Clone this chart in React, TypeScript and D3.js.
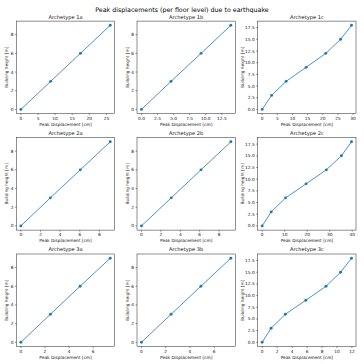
import React from "react";
import * as d3 from "d3";

const suptitle = "Peak displacements (per floor level) due to earthquake";
const titles = ["Archetype 1a", "Archetype 1b", "Archetype 1c", "Archetype 2a", "Archetype 2b", "Archetype 2c", "Archetype 3a", "Archetype 3b", "Archetype 3c"];
const heightsShort = [0, 3, 6, 9];
const heightsTall = [0, 3, 6, 9, 12, 15, 18];
const disp1a = [0, 8.7, 17.4, 26.1];
const disp1b = [0, 4.6, 9.27, 13.9];
const disp1c = [0, 3.1, 7.9, 14.5, 21.0, 25.9, 29.5];
const disp2a = [0, 3.0, 6.05, 9.1];
const disp2b = [0, 3.07, 6.14, 9.22];
const disp2c = [0, 4.0, 10.4, 19.5, 28.5, 35.2, 39.7];
const disp3a = [0, 2.45, 4.92, 7.42];
const disp3b = [0, 2.44, 4.9, 7.37];
const disp3c = [0, 1.19, 3.1, 5.84, 8.54, 10.49, 11.95];
const xTicks = [
  [0, 5, 10, 15, 20, 25],
  [0, 2.5, 5, 7.5, 10, 12.5],
  [0, 5, 10, 15, 20, 25, 30],
  [0, 2, 4, 6, 8],
  [0, 2, 4, 6, 8],
  [0, 10, 20, 30, 40],
  [0, 2, 4, 6],
  [0, 2, 4, 6],
  [0, 2, 4, 6, 8, 10, 12],
];
const yTicksShort = [0, 2, 4, 6, 8];
const yTicksTall = [0, 2.5, 5, 7.5, 10, 12.5, 15, 17.5];
const xLabel = "Peak Displacement [cm]";
const yLabel = "Building height [m]";

const dispSeries = [disp1a, disp1b, disp1c, disp2a, disp2b, disp2c, disp3a, disp3b, disp3c];

const W = 364;
const H = 364;
const colLeft = [16.4, 137, 257.7];
const rowTop = [21.1, 137.6, 254];
const axW = 98.3;
const axH = 92.5;
const COLOR = "#1f77b4";
const FONT = "DejaVu Sans";
const tickFs = 4.3;

function fmt(ticks: number[]) {
  const dec = ticks.some((t) => !Number.isInteger(t));
  return (v: number) => (dec ? v.toFixed(1) : String(v));
}

function Panel({ idx }: { idx: number }) {
  const r = Math.floor(idx / 3);
  const c = idx % 3;
  const x0 = colLeft[c];
  const y0 = rowTop[r];
  const xs = dispSeries[idx];
  const ys = xs.length === 4 ? heightsShort : heightsTall;
  const yt = xs.length === 4 ? yTicksShort : yTicksTall;
  const xt = xTicks[idx];
  const [xmin, xmax] = d3.extent(xs) as [number, number];
  const [ymin, ymax] = d3.extent(ys) as [number, number];
  const xm = (xmax - xmin) * 0.05;
  const ym = (ymax - ymin) * 0.05;
  const x = d3.scaleLinear().domain([xmin - xm, xmax + xm]).range([0, axW]);
  const y = d3.scaleLinear().domain([ymin - ym, ymax + ym]).range([axH, 0]);
  const line = d3.line<number>().x((d) => x(d)).y((d, i) => y(ys[i]));
  const fx = fmt(xt);
  const fy = fmt(yt);
  const tl = 1.5;
  return (
    <g transform={`translate(${x0},${y0})`}>
      <rect x={0} y={0} width={axW} height={axH} fill="white" stroke="#222" strokeWidth={0.5} />
      {xt.map((t) => (
        <g key={"x" + t} transform={`translate(${x(t)},${axH})`}>
          <line y1={0} y2={tl} stroke="#222" strokeWidth={0.5} />
          <text y={tl + 1.5 + tickFs * 0.76} textAnchor="middle" fontSize={tickFs} fontFamily={FONT} fill="#111">{fx(t)}</text>
        </g>
      ))}
      {yt.map((t) => (
        <g key={"y" + t} transform={`translate(0,${y(t)})`}>
          <line x1={0} x2={-tl} stroke="#222" strokeWidth={0.5} />
          <text x={-tl - 1.5} dy={tickFs * 0.36} textAnchor="end" fontSize={tickFs} fontFamily={FONT} fill="#111">{fy(t)}</text>
        </g>
      ))}
      <path d={line(xs) || ""} fill="none" stroke={COLOR} strokeWidth={0.8} />
      {xs.map((d, i) => (
        <circle key={i} cx={x(d)} cy={y(ys[i])} r={1.45} fill={COLOR} />
      ))}
      <text x={axW / 2} y={-2.6} textAnchor="middle" fontSize={5.1} fontFamily={FONT} fill="#111">{titles[idx]}</text>
      <text x={axW / 2} y={axH + 12.4} textAnchor="middle" fontSize={tickFs} fontFamily={FONT} fill="#111">{xLabel}</text>
      <text transform={`translate(${c === 2 ? -14 : -8.2},${axH / 2}) rotate(-90)`} textAnchor="middle" fontSize={tickFs} fontFamily={FONT} fill="#111">{yLabel}</text>
    </g>
  );
}

export default function App() {
  return (
    <svg width={W} height={H} style={{ position: "absolute", left: 0, top: 0, background: "white" }}>
      <rect width={W} height={H} fill="white" />
      <text x={W / 2} y={12.2} textAnchor="middle" fontSize={6.3} fontFamily={FONT} fill="#000">{suptitle}</text>
      {titles.map((_, i) => (
        <Panel key={i} idx={i} />
      ))}
    </svg>
  );
}
